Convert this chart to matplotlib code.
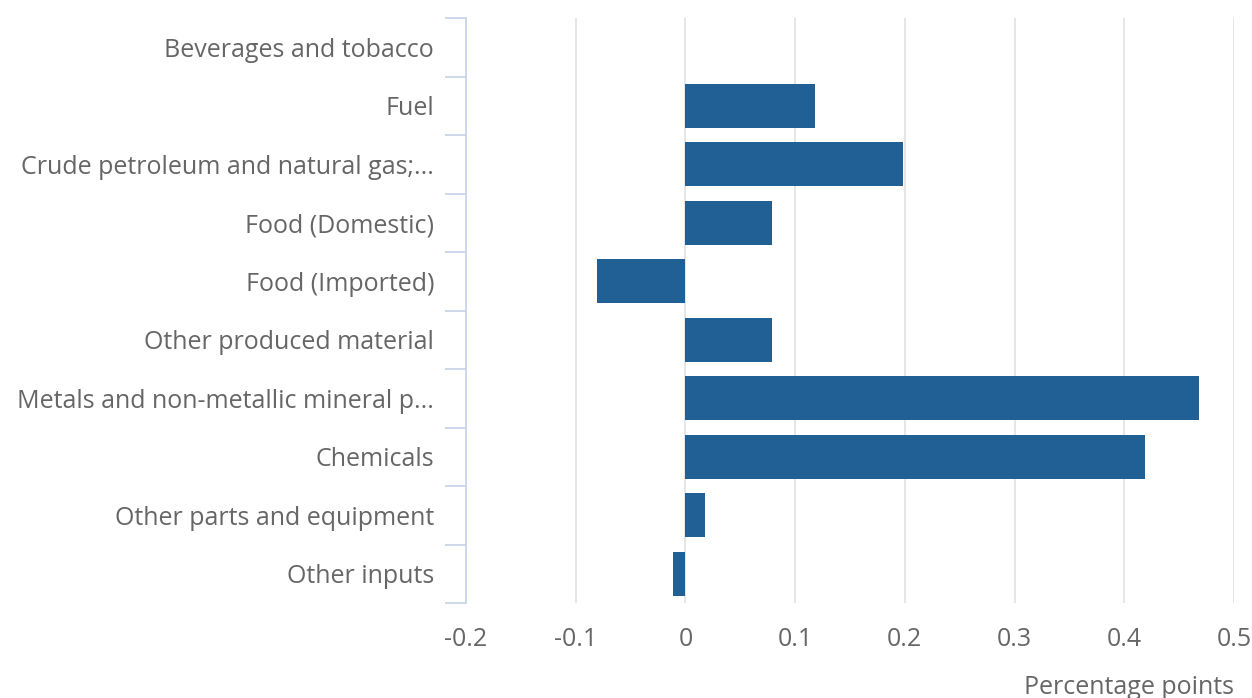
import matplotlib.pyplot as plt
import numpy as np

plt.rcParams['font.family'] = ['Open Sans', 'DejaVu Sans']

categories = ['Beverages and tobacco', 'Fuel', 'Crude petroleum and natural gas;...',
              'Food (Domestic)', 'Food (Imported)', 'Other produced material',
              'Metals and non-metallic mineral p...', 'Chemicals',
              'Other parts and equipment', 'Other inputs']
values = [0.0, 0.118, 0.198, 0.079, -0.081, 0.079, 0.468, 0.419, 0.018, -0.011]
x_ticks = [-0.2, -0.1, 0, 0.1, 0.2, 0.3, 0.4, 0.5]
x_labels = ['-0.2', '-0.1', '0', '0.1', '0.2', '0.3', '0.4', '0.5']

text_col = '#666666'
axis_col = '#ccd6eb'

fig = plt.figure(figsize=(12.52, 6.98), dpi=100)
ax = fig.add_axes([466 / 1252, 1 - 603 / 698, (1234 - 466) / 1252, (603 - 18) / 698])

pos = np.arange(len(categories))
ax.barh(pos, values, height=0.75, color='#206095', zorder=3)

ax.set_ylim(len(categories) - 0.5, -0.5)
ax.set_xlim(-0.2, 0.5)

ax.set_xticks(x_ticks)
ax.set_xticklabels(x_labels)
ax.grid(axis='x', color='#e6e6e6', linewidth=1.4, zorder=0)

ax.set_yticks(pos)
ax.set_yticklabels(categories)
ax.set_yticks(np.arange(len(categories) + 1) - 0.5, minor=True)
ax.tick_params(axis='y', which='major', length=0, pad=23, labelsize=18, labelcolor=text_col)
ax.tick_params(axis='y', which='minor', length=15, width=1.3, color=axis_col)
ax.tick_params(axis='x', length=0, pad=17, labelsize=18, labelcolor=text_col)

for s in ['top', 'right', 'bottom']:
    ax.spines[s].set_visible(False)
ax.spines['left'].set_color(axis_col)
ax.spines['left'].set_linewidth(1.3)

ax.set_xlabel('Percentage points', fontsize=18, color=text_col, loc='right', labelpad=17)

fig.savefig('out.png', dpi=100)
